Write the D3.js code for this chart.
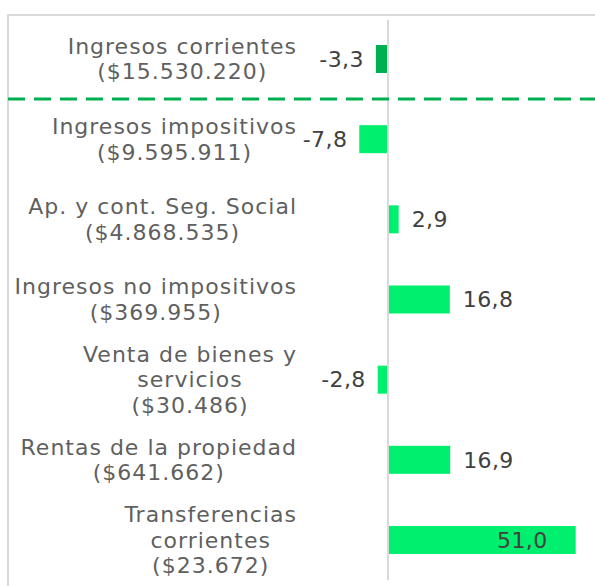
<!DOCTYPE html>
<html>
<head>
    <meta charset="utf-8">
    <title>Ingresos corrientes</title>
    <script src="https://d3js.org/d3.v7.min.js"></script>
    <style>
        body {
            margin: 0;
            background-color: white;
        }
        .cat-label {
            font-family: "DejaVu Sans", sans-serif;
            font-size: 22px;
            letter-spacing: 1px;
            fill: #5f5f5f;
        }
        .val-label {
            font-family: "DejaVu Sans", sans-serif;
            font-size: 22px;
            letter-spacing: 0.4px;
            fill: #404040;
        }
    </style>
</head>
<body>
    <div id="chart"></div>
    <script>
        // Chart data
        const labelLines = [
            ['Ingresos corrientes', '($15.530.220)'],
            ['Ingresos impositivos', '($9.595.911)'],
            ['Ap. y cont. Seg. Social', '($4.868.535)'],
            ['Ingresos no impositivos', '($369.955)'],
            ['Venta de bienes y', 'servicios', '($30.486)'],
            ['Rentas de la propiedad', '($641.662)'],
            ['Transferencias', 'corrientes', '($23.672)']
        ];
        const values = [-3.3, -7.8, 2.9, 16.8, -2.8, 16.9, 51.0];
        const valueText = ['-3,3', '-7,8', '2,9', '16,8', '-2,8', '16,9', '51,0'];

        const width = 595, height = 586;
        const labelRight = 297;
        const lineHeight = 25.5;

        const svg = d3.select('#chart')
            .append('svg')
            .attr('width', width)
            .attr('height', height);

        const x = d3.scaleLinear().domain([-10, 60]).range([351.2, 608.8]);
        const y = d3.scalePoint().domain(d3.range(values.length)).range([59, 540]);
        const barH = 28;

        // frame
        svg.append('path')
            .attr('d', `M8,${height} V15 H${width}`)
            .attr('fill', 'none')
            .attr('stroke', '#d9d9d9')
            .attr('stroke-width', 2);

        // zero line
        svg.append('line')
            .attr('x1', x(0)).attr('x2', x(0))
            .attr('y1', 20).attr('y2', 580)
            .attr('stroke', '#d9d9d9')
            .attr('stroke-width', 2);

        // bars
        svg.append('g')
            .selectAll('rect')
            .data(values)
            .enter()
            .append('rect')
            .attr('x', d => d < 0 ? x(d) : x(0) + 1)
            .attr('width', d => d < 0 ? x(0) - 1 - x(d) : x(d) - x(0) - 1)
            .attr('y', (d, i) => y(i) - barH / 2)
            .attr('height', barH)
            .attr('fill', (d, i) => i === 0 ? '#00b050' : '#00ef6e');

        // separator between total and components
        svg.append('line')
            .attr('x1', 8).attr('x2', width)
            .attr('y1', 99).attr('y2', 99)
            .attr('stroke', '#00b050')
            .attr('stroke-width', 3)
            .attr('stroke-dasharray', '17 9');

        // value labels
        svg.append('g')
            .selectAll('text')
            .data(values)
            .enter()
            .append('text')
            .attr('class', 'val-label')
            .attr('x', d => d < 0 ? x(d) - 12 : (d > 40 ? x(d) - 28 : x(d) + 13))
            .attr('y', (d, i) => y(i))
            .attr('dy', '0.35em')
            .attr('text-anchor', d => d < 0 || d > 40 ? 'end' : 'start')
            .text((d, i) => valueText[i]);

        // category labels: lines centred in a right-aligned block
        const catG = svg.append('g');
        labelLines.forEach((lines, i) => {
            const t = catG.append('text')
                .attr('class', 'cat-label')
                .attr('text-anchor', 'middle');
            const spans = lines.map((l, j) => t.append('tspan')
                .attr('x', 0)
                .attr('y', y(i) + (j - (lines.length - 1) / 2) * lineHeight)
                .attr('dy', '0.35em')
                .text(l));
            const w = d3.max(spans, s => s.node().getComputedTextLength());
            t.attr('transform', `translate(${labelRight - w / 2},0)`);
        });
    </script>
</body>
</html>
